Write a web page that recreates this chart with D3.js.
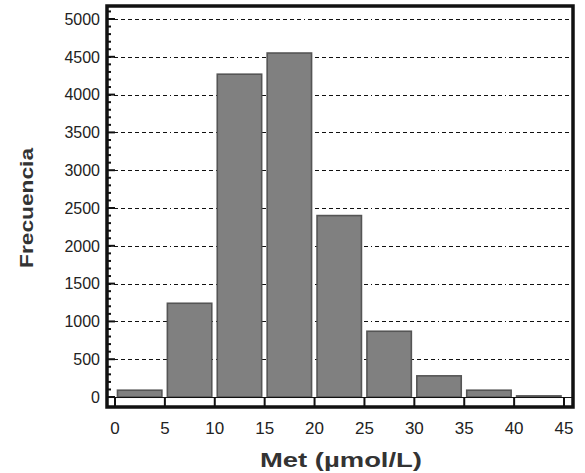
<!DOCTYPE html>
<html>
<head>
<meta charset="utf-8">
<script src="https://cdn.jsdelivr.net/npm/d3@7"></script>
<style>
  html, body { margin: 0; padding: 0; background: #fff; }
  svg { display: block; }
  text { font-family: Arial, "Liberation Sans", sans-serif; }
</style>
</head>
<body>
<svg id="chart" width="585" height="473"></svg>
<script>
// Histogram of Met concentration (bins of 5 µmol/L)
const binStarts = [0, 5, 10, 15, 20, 25, 30, 35, 40];
const binWidth = 5;
const frequencies = [90, 1240, 4270, 4550, 2400, 870, 280, 90, 15];
const xTicks = [0, 5, 10, 15, 20, 25, 30, 35, 40, 45];
const yTicks = [0, 500, 1000, 1500, 2000, 2500, 3000, 3500, 4000, 4500, 5000];
const yMinorTicks = d3.range(0, 5101, 100);
const gridValues = [500, 1000, 1500, 2000, 2500, 3000, 3500, 4000, 4500, 5000];
const xTitle = "Met (µmol/L)";
const yTitle = "Frecuencia";

const svg = d3.select("#chart");
const frame = { left: 107, right: 573, top: 6, bottom: 407 };

const x = d3.scaleLinear().domain([-0.8, 45.9]).range([frame.left, frame.right]);
const y = d3.scaleLinear().domain([-132, 5172]).range([frame.bottom, frame.top]);

// dash-dot grid lines
svg.append("g")
  .selectAll("line")
  .data(gridValues)
  .join("line")
  .attr("x1", frame.left).attr("x2", frame.right)
  .attr("y1", d => Math.round(y(d)) + 0.5).attr("y2", d => Math.round(y(d)) + 0.5)
  .attr("stroke", "#111")
  .attr("stroke-width", 1.2)
  .attr("stroke-dasharray", "4,3,4,3,4,3,4,3,4,3,4,3,4,3,4,3,4,3,1,3");

// bars
svg.append("g")
  .selectAll("rect")
  .data(binStarts.map((s, i) => ({ s, v: frequencies[i] })))
  .join("rect")
  .attr("x", d => x(d.s + 0.25))
  .attr("width", d => x(d.s + 4.7) - x(d.s + 0.25))
  .attr("y", d => y(d.v))
  .attr("height", d => y(0) - y(d.v))
  .attr("fill", "#808080")
  .attr("stroke", "#555")
  .attr("stroke-width", 1.6);

// baseline under the bars and x ticks down to the frame
svg.append("line")
  .attr("x1", frame.left).attr("x2", frame.right)
  .attr("y1", y(0) + 0.5).attr("y2", y(0) + 0.5)
  .attr("stroke", "#111").attr("stroke-width", 1);

svg.append("g")
  .selectAll("line")
  .data(xTicks)
  .join("line")
  .attr("x1", d => x(d)).attr("x2", d => x(d))
  .attr("y1", y(0)).attr("y2", frame.bottom)
  .attr("stroke", "#111").attr("stroke-width", 2);

// y ticks pointing into the plot
svg.append("g")
  .selectAll("line")
  .data(yMinorTicks)
  .join("line")
  .attr("x1", frame.left)
  .attr("x2", d => frame.left + (d % 500 === 0 ? 8 : 4))
  .attr("y1", d => y(d)).attr("y2", d => y(d))
  .attr("stroke", "#111").attr("stroke-width", 2);

// frame
svg.append("rect")
  .attr("x", frame.left).attr("y", frame.top)
  .attr("width", frame.right - frame.left)
  .attr("height", frame.bottom - frame.top)
  .attr("fill", "none")
  .attr("stroke", "#111")
  .attr("stroke-width", 3.5);

// y tick labels
svg.append("g")
  .selectAll("text")
  .data(yTicks)
  .join("text")
  .attr("x", 100)
  .attr("y", d => y(d))
  .attr("dy", "0.36em")
  .attr("text-anchor", "end")
  .attr("font-size", 16)
  .attr("fill", "#222")
  .text(d => d);

// x tick labels
svg.append("g")
  .selectAll("text")
  .data(xTicks)
  .join("text")
  .attr("x", d => x(d))
  .attr("y", 434)
  .attr("text-anchor", "middle")
  .attr("font-size", 17)
  .attr("fill", "#222")
  .text(d => d);

// axis titles
svg.append("text")
  .attr("x", 341).attr("y", 467)
  .attr("text-anchor", "middle")
  .attr("font-size", 20)
  .attr("font-weight", "bold")
  .attr("fill", "#333")
  .attr("textLength", 162)
  .attr("lengthAdjust", "spacingAndGlyphs")
  .text(xTitle);

svg.append("text")
  .attr("transform", "translate(33,208) rotate(-90)")
  .attr("text-anchor", "middle")
  .attr("font-size", 19)
  .attr("font-weight", "bold")
  .attr("fill", "#333")
  .attr("textLength", 120)
  .attr("lengthAdjust", "spacingAndGlyphs")
  .text(yTitle);
</script>
</body>
</html>
